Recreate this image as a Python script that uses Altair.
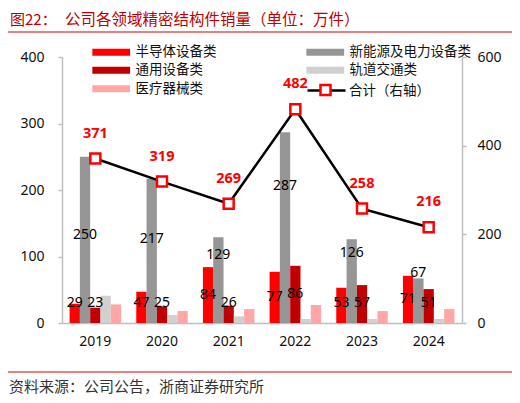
import altair as alt
import pandas as pd

# ---------------- data ----------------
years = ["2019", "2020", "2021", "2022", "2023", "2024"]
series_names = ["半导体设备类", "新能源及电力设备类", "通用设备类", "轨道交通类", "医疗器械类"]
semiconductor = [29, 47, 84, 77, 53, 71]
new_energy = [250, 217, 129, 287, 126, 67]
general_equipment = [23, 25, 26, 86, 57, 51]
rail_transit = [41, 12, 10, 6, 6, 6]
medical = [28, 18, 21, 27, 18, 21]
total = [371, 319, 269, 482, 258, 216]
# where the labels of the grey series sit in the original (left-axis units)
new_energy_label_at = [132, 127, 103, 206, 105, 75]

title_prefix = "图22："
title_text = "公司各领域精密结构件销量（单位：万件）"
source_text = "资料来源：公司公告，浙商证券研究所"
line_name = "合计（右轴）"

series_colors = ["#FF0000", "#969696", "#C00000", "#D0D0D0", "#FFA7A7"]
# legend fills column by column: left column, then right column
legend_order = [series_names[0], series_names[2], series_names[4], series_names[1], series_names[3]]
legend_colors = [series_colors[0], series_colors[2], series_colors[4], series_colors[1], series_colors[3]]

FONT = "Noto Sans"
CJK = "Noto Sans CJK SC"
AXIS_GREY = "#BFBFBF"

# ---------------- tables ----------------
series_values = [semiconductor, new_energy, general_equipment, rail_transit, medical]
rows = []
for i, yr in enumerate(years):
    for name, vals in zip(series_names, series_values):
        rows.append({"year": yr, "series": name, "value": vals[i]})
bars_df = pd.DataFrame(rows)

lab_rows = []
for i, yr in enumerate(years):
    lab_rows.append({"year": yr, "series": series_names[0], "value": semiconductor[i],
                     "pos": max(semiconductor[i] / 2, 30)})
    lab_rows.append({"year": yr, "series": series_names[1], "value": new_energy[i],
                     "pos": new_energy_label_at[i]})
    lab_rows.append({"year": yr, "series": series_names[2], "value": general_equipment[i],
                     "pos": max(general_equipment[i] / 2, 30)})
labels_df = pd.DataFrame(lab_rows)

total_df = pd.DataFrame({"year": years, "total": total, "lname": line_name, "pname": line_name})

# ---------------- encodings ----------------
x_axis = alt.Axis(labelAngle=0, tickSize=0, domain=True, domainColor=AXIS_GREY, domainWidth=1.5,
                  labelFont=FONT, labelFontSize=14, labelColor="#111111", labelPadding=11,
                  grid=False)
x_enc = alt.X("year:N", sort=years, title=None,
              scale=alt.Scale(paddingInner=0.228, paddingOuter=0.114), axis=x_axis)
xoff_enc = alt.XOffset("series:N", sort=series_names,
                       scale=alt.Scale(domain=series_names, paddingInner=0, paddingOuter=0))

left_scale = alt.Scale(domain=[0, 400], nice=False, zero=True)
right_scale = alt.Scale(domain=[0, 600], nice=False, zero=True)

left_axis = alt.Axis(orient="left", values=[0, 100, 200, 300, 400], grid=False, domain=True,
                     ticks=True, labels=True, domainColor=AXIS_GREY, domainWidth=1.5,
                     tickColor=AXIS_GREY, tickSize=4, tickWidth=1.5, labelFont=FONT,
                     labelFontSize=14, labelColor="#111111", labelPadding=14)
right_axis = alt.Axis(orient="right", values=[0, 200, 400, 600], grid=False, domain=True,
                      ticks=True, labels=True, domainColor=AXIS_GREY, domainWidth=1.5,
                      tickColor=AXIS_GREY, tickSize=4, tickWidth=1.5, labelFont=FONT,
                      labelFontSize=14, labelColor="#111111", labelPadding=11)

bars = alt.Chart(bars_df).mark_bar(strokeWidth=0).encode(
    x=x_enc,
    xOffset=xoff_enc,
    y=alt.Y("value:Q", scale=left_scale, title=None, axis=left_axis),
    color=alt.Color("series:N",
                    scale=alt.Scale(domain=legend_order, range=legend_colors),
                    legend=alt.Legend(orient="none", legendX=42.5, legendY=-12, columns=2,
                                      columnPadding=89, rowPadding=3.5, title=None,
                                      symbolType="M-5.4,-1H5.4V1H-5.4Z", symbolSize=49,
                                      symbolStrokeWidth=0, symbolOpacity=1,
                                      labelFont=CJK, labelFontSize=13.5, labelColor="#111111",
                                      labelOffset=17.5, padding=0)),
)

bar_labels = alt.Chart(labels_df).mark_text(
    font=FONT, fontSize=14, color="#000000", baseline="middle", align="center"
).encode(
    x=x_enc,
    xOffset=xoff_enc,
    y=alt.Y("pos:Q", scale=left_scale, axis=None),
    text="value:Q",
)

line = alt.Chart(total_df).mark_line(strokeWidth=2.5).encode(
    x=x_enc,
    y=alt.Y("total:Q", scale=right_scale, title=None, axis=right_axis),
    stroke=alt.Stroke("lname:N", scale=alt.Scale(range=["#000000"]),
                      legend=alt.Legend(orient="none", legendX=244, legendY=13, title=None,
                                        symbolType="stroke", symbolSize=1444,
                                        symbolStrokeWidth=2.5, labelFont=CJK,
                                        labelFontSize=13.5, labelColor="#111111",
                                        labelOffset=2, padding=0)),
)

points = alt.Chart(total_df).mark_point(
    filled=False, fill="#FFFFFF", stroke="#FF0000", strokeWidth=2.5, size=100, opacity=1
).encode(
    x=x_enc,
    y=alt.Y("total:Q", scale=right_scale, axis=None),
    shape=alt.Shape("pname:N", scale=alt.Scale(range=["square"]),
                    legend=alt.Legend(orient="none", legendX=257, legendY=26.5, title=None,
                                      symbolSize=100, symbolStrokeWidth=2.5, symbolOpacity=1,
                                      labelExpr="''", padding=0)),
)

point_labels = alt.Chart(total_df).mark_text(
    font=FONT, fontSize=14.5, fontWeight="bold", color="#FF0000", dy=-25
).encode(
    x=x_enc,
    y=alt.Y("total:Q", scale=right_scale, axis=None),
    text="total:Q",
)

# ---------------- frame texts and rules ----------------
one = pd.DataFrame({"k": [0]})
t_prefix = alt.Chart(one).mark_text(
    text=title_prefix, font=CJK, fontSize=15, color="#C00000", align="left", baseline="middle"
).encode(x=alt.value(-52), y=alt.value(-37))
t_main = alt.Chart(one).mark_text(
    text=title_text, font=CJK, fontSize=15.5, color="#C00000", align="left", baseline="middle"
).encode(x=alt.value(3), y=alt.value(-37))
rule_top = alt.Chart(one).mark_rule(color="#D00000", strokeWidth=1).encode(
    x=alt.value(-54), x2=alt.value(452), y=alt.value(-25))
rule_bottom = alt.Chart(one).mark_rule(color="#D00000", strokeWidth=1).encode(
    x=alt.value(-54), x2=alt.value(452), y=alt.value(315))
source = alt.Chart(one).mark_text(
    text=source_text, font=CJK, fontSize=15, color="#333333", align="left", baseline="middle"
).encode(x=alt.value(-53), y=alt.value(330))

chart = alt.layer(
    bars, bar_labels, line, points, point_labels,
    t_prefix, t_main, rule_top, rule_bottom, source,
).resolve_scale(y="independent").properties(
    width=400, height=266,
    autosize=alt.AutoSizeParams(type="none"),
    padding={"left": 54, "top": 49, "right": 50, "bottom": 72},
).configure_view(stroke=None)

chart.save("out.html", embed_options={"renderer": "svg", "actions": False})
